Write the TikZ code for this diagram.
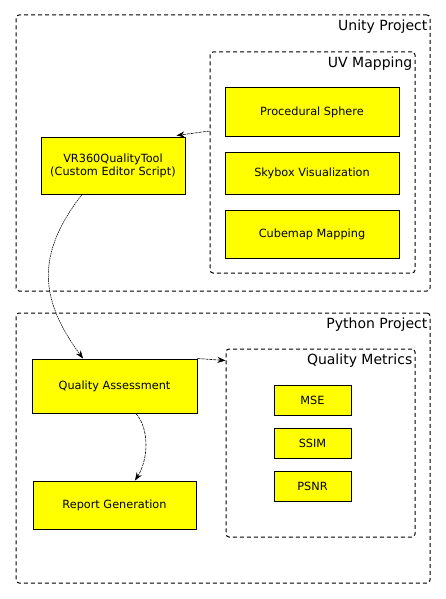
\documentclass[tikz,border=0pt]{standalone}
\usepackage{fontspec}
\setmainfont{DejaVu Sans}
\usetikzlibrary{arrows.meta}
\definecolor{boxyellow}{HTML}{FFFF00}
\begin{document}
\begin{tikzpicture}[x=1pt,y=-1pt,
 grp/.style={draw, dash pattern=on 4pt off 3pt, rounded corners=3pt, line width=1pt, inner sep=0pt},
 blk/.style={draw, fill=boxyellow, line width=1pt, inner sep=0pt, align=center, font=\fontsize{11.3}{13}\selectfont},
 grplbl/.style={anchor=north east, inner sep=0pt, font=\fontsize{14}{16}\selectfont},
 conn/.style={-{Stealth[length=8pt,width=6pt]}, line width=0.6pt, dash pattern=on 3pt off 1pt},
 connd/.style={-{Stealth[length=8pt,width=6pt]}, line width=0.6pt, dash pattern=on 1.5pt off 0.8pt}
]
\useasboundingbox (0,0) rectangle (446,599);
% groups
\node[grp, minimum width=414pt, minimum height=276pt] (unity) at (223,153) {};
\node[grplbl] (unitylbl) at ([xshift=-3pt,yshift=-5pt]unity.north east) {Unity Project};
\node[grp, minimum width=205pt, minimum height=221pt] (uv) at (312.5,162.5) {};
\node[grplbl] (uvlbl) at ([xshift=-3pt,yshift=-5pt]uv.north east) {UV Mapping};
\node[grp, minimum width=414pt, minimum height=270pt] (python) at (223,448) {};
\node[grplbl] (pythonlbl) at ([xshift=-3pt,yshift=-5pt]python.north east) {Python Project};
\node[grp, minimum width=189pt, minimum height=188pt] (qm) at (320.5,443) {};
\node[grplbl] (qmlbl) at ([xshift=-3pt,yshift=-5pt]qm.north east) {Quality Metrics};
% blocks
\node[blk, minimum width=174pt, minimum height=48pt] (ps) at (312,112) {Procedural Sphere};
\node[blk, minimum width=174pt, minimum height=42pt] (sv) at (312,173) {Skybox Visualization};
\node[blk, minimum width=174pt, minimum height=48pt] (cm) at (312,234) {Cubemap Mapping};
\node[blk, minimum width=144pt, minimum height=57pt] (vr) at (113,165.5) {VR360QualityTool\\(Custom Editor Script)};
\node[blk, minimum width=165pt, minimum height=54pt] (qa) at (114.5,386) {Quality Assessment};
\node[blk, minimum width=163pt, minimum height=48pt] (rg) at (114.5,505) {Report Generation};
\node[blk, minimum width=77pt, minimum height=30pt] (mse) at (312.5,400) {MSE};
\node[blk, minimum width=77pt, minimum height=30pt] (ssim) at (312.5,443) {SSIM};
\node[blk, minimum width=77pt, minimum height=30pt] (psnr) at (312.5,486) {PSNR};
% connectors
\draw[conn] ([yshift=31.5pt]uv.west) -- ([xshift=-9pt,yshift=1pt]vr.north east);
\draw[connd] ([xshift=-31pt]vr.south) .. controls (35,255) and (40,300) .. ([xshift=-31.5pt]qa.north);
\draw[conn] (qa.north east) -- ([yshift=-12pt]qm.north west);
\draw[conn] ([xshift=21.5pt]qa.south) .. controls (150,430) and (148,460) .. ([xshift=20.5pt]rg.north);
\end{tikzpicture}
\end{document}
